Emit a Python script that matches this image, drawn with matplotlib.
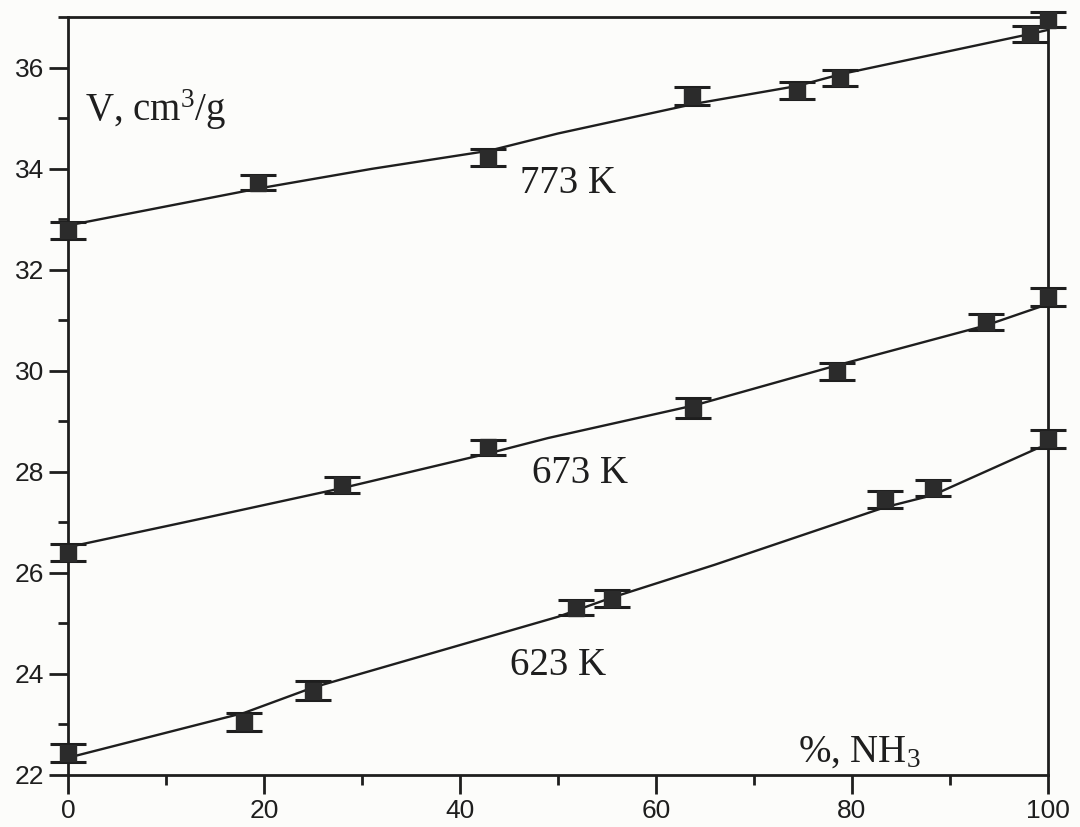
import numpy as np
import matplotlib.pyplot as plt
from matplotlib.ticker import MultipleLocator

plt.rcParams['mathtext.fontset'] = 'custom'
plt.rcParams['mathtext.rm'] = 'Liberation Serif'
plt.rcParams['mathtext.it'] = 'Liberation Serif:italic'

# measured points (% NH3, V cm3/g) for each temperature
x_773 = [0, 19.4, 42.9, 63.7, 74.4, 78.8, 98.2, 100]
v_773 = [32.78, 33.73, 34.22, 35.45, 35.55, 35.80, 36.67, 36.95]
e_773 = [0.17, 0.15, 0.17, 0.18, 0.17, 0.16, 0.16, 0.15]

x_673 = [0, 28.0, 42.9, 63.8, 78.5, 93.7, 100]
v_673 = [26.40, 27.74, 28.49, 29.26, 29.99, 30.96, 31.47]
e_673 = [0.17, 0.16, 0.15, 0.20, 0.17, 0.16, 0.18]

x_623 = [0, 18.0, 25.0, 51.9, 55.5, 83.4, 88.3, 100]
v_623 = [22.44, 23.04, 23.67, 25.31, 25.49, 27.46, 27.68, 28.65]
e_623 = [0.18, 0.18, 0.18, 0.15, 0.17, 0.17, 0.16, 0.18]

# fitted curves as drawn in the figure
fx_773 = [0, 19.4, 31, 43, 50, 64, 74.4, 79, 98.2, 100]
fv_773 = [32.88, 33.61, 34.0, 34.36, 34.70, 35.29, 35.64, 35.88, 36.67, 36.75]
fx_673 = [0, 14, 28, 43, 49, 64, 78.5, 93.7, 100]
fv_673 = [26.51, 27.09, 27.68, 28.37, 28.67, 29.32, 30.11, 30.90, 31.32]
fx_623 = [0, 18, 25, 50, 55.5, 66, 83.4, 88.3, 99, 100]
fv_623 = [22.34, 23.23, 23.73, 25.13, 25.51, 26.16, 27.30, 27.54, 28.47, 28.53]

labels = ['773 K', '673 K', '623 K']
label_pos = [(46.1, 33.53), (47.4, 27.78), (45.1, 23.98)]

ink = '#1e1e1e'
serif = ['Liberation Serif', 'DejaVu Serif']

fig = plt.figure(figsize=(10.8, 8.27), dpi=100, facecolor='#fcfcfa')
ax = fig.add_axes([0.063, 0.063, 0.907, 0.916])
ax.set_facecolor('#fcfcfa')

for fx, fv in [(fx_773, fv_773), (fx_673, fv_673), (fx_623, fv_623)]:
    ax.plot(fx, fv, color=ink, lw=1.7, clip_on=False, zorder=2)

for x, v, e in [(x_773, v_773, e_773), (x_673, v_673, e_673), (x_623, v_623, e_623)]:
    ax.errorbar(x, v, yerr=e, fmt='s', ms=11, color='#2b2b2b', ecolor=ink,
                elinewidth=2, capsize=13, capthick=2.2, clip_on=False, zorder=3)

for lab, (lx, ly) in zip(labels, label_pos):
    ax.text(lx, ly, lab, fontsize=28, family=serif, color=ink)

ax.text(1.7, 34.95, 'V, cm$^3$/g', fontsize=28, family=serif, color=ink)
ax.text(74.5, 22.26, '%, NH$_3$', fontsize=28, family=serif, color=ink)

ax.set_xlim(0, 100)
ax.set_ylim(22, 37)
ax.xaxis.set_major_locator(MultipleLocator(20))
ax.xaxis.set_minor_locator(MultipleLocator(10))
ax.yaxis.set_major_locator(MultipleLocator(2))
ax.yaxis.set_minor_locator(MultipleLocator(1))
ax.tick_params(which='major', length=14, width=2, labelsize=19, color=ink, labelcolor=ink, pad=3)
ax.tick_params(which='minor', length=7, width=2, color=ink)
for lbl in ax.get_xticklabels() + ax.get_yticklabels():
    lbl.set_family(['Liberation Sans', 'DejaVu Sans'])
for s in ax.spines.values():
    s.set_linewidth(2)
    s.set_color(ink)

fig.savefig('out.png', dpi=100, facecolor=fig.get_facecolor())
